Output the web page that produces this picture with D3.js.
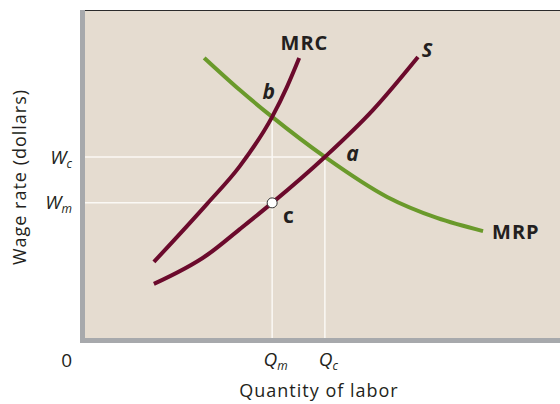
<!DOCTYPE html>
<html><head><meta charset="utf-8">
<script src="https://cdn.jsdelivr.net/npm/d3@7"></script>
<style>body{margin:0;background:#fff}svg{display:block}text{font-family:"Open Sans",Lato,sans-serif;fill:#231f20}</style>
</head><body>
<script>
// ---- data (abstract units) ----
const mrcQ = [14.5, 25.7, 32.6, 39.4, 42.5, 45.1];
const mrcW = [23.2, 40.9, 52.4, 67.4, 76.5, 85.4];
const supQ = [14.5, 25.7, 32.6, 39.4, 50.5, 60.6, 70.1];
const supW = [16.5, 25.3, 33.2, 41.2, 55.2, 69.5, 85.7];
const mrpQ = [25.1, 32.6, 39.4, 50.5, 63.6, 74.1, 83.8];
const mrpW = [85.4, 75.6, 67.4, 55.2, 43.0, 36.6, 32.6];
const Qm = 39.4, Qc = 50.5, Wm = 41.2, Wc = 55.2, Wb = 67.4;
const xTickValues = [Qm, Qc];
const xTickMain = ["Q", "Q"];
const xTickSub = ["m", "c"];
const yTickValues = [Wc, Wm];
const yTickMain = ["W", "W"];
const yTickSub = ["c", "m"];

const W = 560, H = 404;
const L = 85, T = 10, B = 338;
const x = d3.scaleLinear().domain([0, 100]).range([L, 560]);
const y = d3.scaleLinear().domain([0, 100]).range([B, T]);

const svg = d3.select("body").append("svg").attr("width", W).attr("height", H);
svg.append("rect").attr("x", L).attr("y", T).attr("width", W - L).attr("height", B - T).attr("fill", "#e5dcd0");

// guide lines
const gl = svg.append("g").attr("stroke", "#fbf9f5").attr("stroke-width", 1.5);
gl.append("line").attr("x1", x(0)).attr("x2", x(Qc)).attr("y1", y(Wc)).attr("y2", y(Wc));
gl.append("line").attr("x1", x(0)).attr("x2", x(Qm)).attr("y1", y(Wm)).attr("y2", y(Wm));
gl.append("line").attr("x1", x(Qm)).attr("x2", x(Qm)).attr("y1", y(0)).attr("y2", y(Wb));
gl.append("line").attr("x1", x(Qc)).attr("x2", x(Qc)).attr("y1", y(0)).attr("y2", y(Wc));

const line = d3.line().x(d => x(d[0])).y(d => y(d[1])).curve(d3.curveMonotoneX);
const zip = (a, b) => a.map((v, i) => [v, b[i]]);
svg.append("path").attr("d", line(zip(mrpQ, mrpW))).attr("fill", "none").attr("stroke", "#6a9a2b").attr("stroke-width", 4);
svg.append("path").attr("d", line(zip(mrcQ, mrcW))).attr("fill", "none").attr("stroke", "#6b0a2c").attr("stroke-width", 4);
svg.append("path").attr("d", line(zip(supQ, supW))).attr("fill", "none").attr("stroke", "#6b0a2c").attr("stroke-width", 4);

svg.append("circle").attr("cx", x(Qm)).attr("cy", y(Wm)).attr("r", 5).attr("fill", "#fff").attr("stroke", "#333").attr("stroke-width", 1);

// curve labels
function lab(t, px, py, italic, size, anchor) {
  svg.append("text").attr("x", px).attr("y", py).attr("font-size", size).attr("font-weight", "bold")
    .attr("font-style", italic ? "italic" : "normal").attr("text-anchor", anchor || "middle").text(t);
}
lab("MRC", x(46.2), y(87.8), false, 20);
lab("S", x(72.0), y(85.7), true, 20);
lab("MRP", x(85.7), y(30.2), false, 20, "start");
lab("b", x(38.7), y(72.9), true, 21);
lab("a", x(56.3), y(54.0), true, 21);
lab("c", x(42.8), y(35.1), false, 21);
svg.selectAll("text").filter(function () { return /MR/.test(this.textContent); }).attr("letter-spacing", 1);

// axes
const ya = svg.append("g").attr("transform", `translate(${L},0)`)
  .call(d3.axisLeft(y).tickValues(yTickValues).tickSize(0).tickPadding(13).tickFormat(""));
ya.select(".domain").remove();
ya.selectAll(".tick text").each(function (d, i) {
  const t = d3.select(this).attr("font-size", 19).attr("font-style", "italic").attr("fill", "#231f20").attr("font-family", "Open Sans");
  t.append("tspan").text(yTickMain[i]);
  t.append("tspan").attr("font-size", 12).attr("dy", 4).text(yTickSub[i]);
});
const xa = svg.append("g").attr("transform", `translate(0,${B})`)
  .call(d3.axisBottom(x).tickValues(xTickValues).tickSize(0).tickPadding(15).tickFormat(""));
xa.select(".domain").remove();
xa.selectAll(".tick text").each(function (d, i) {
  const t = d3.select(this).attr("font-size", 19).attr("font-style", "italic").attr("fill", "#231f20").attr("font-family", "Open Sans").attr("dx", 3);
  t.append("tspan").text(xTickMain[i]);
  t.append("tspan").attr("font-size", 12).attr("dy", 4).text(xTickSub[i]);
});

// frame
svg.append("rect").attr("x", 80).attr("y", T).attr("width", 5).attr("height", B + 5 - T).attr("fill", "#a7a9ac");
svg.append("rect").attr("x", 80).attr("y", B).attr("width", W - 80).attr("height", 5).attr("fill", "#a7a9ac");
svg.append("line").attr("x1", L).attr("x2", W).attr("y1", T + 0.5).attr("y2", T + 0.5).attr("stroke", "#2b2b2b").attr("stroke-width", 1.2);

svg.append("text").attr("x", 72).attr("y", 367).attr("font-size", 19).attr("text-anchor", "end").text("0");
svg.append("text").attr("x", 319).attr("y", 397).attr("font-size", 18).attr("letter-spacing", 1).attr("text-anchor", "middle").text("Quantity of labor");
svg.append("text").attr("transform", "translate(26,177) rotate(-90)").attr("font-size", 18).attr("letter-spacing", 1).attr("text-anchor", "middle").text("Wage rate (dollars)");
</script>
</body></html>
